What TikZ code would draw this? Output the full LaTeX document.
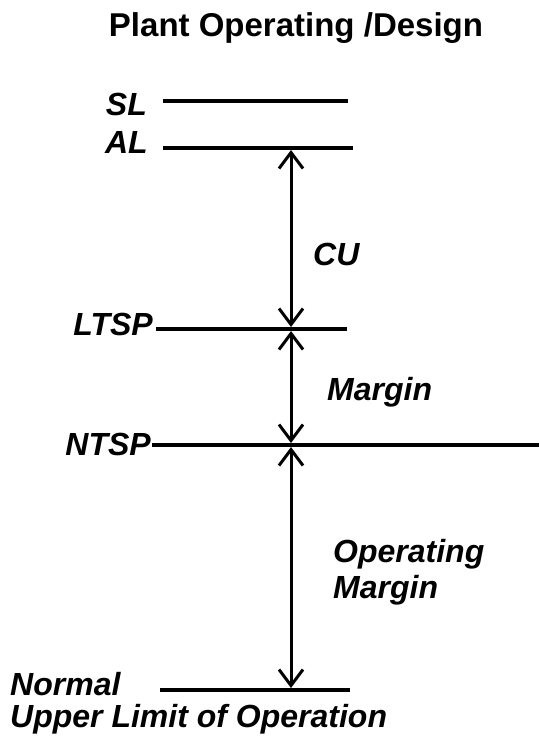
\documentclass[tikz,border=0pt]{standalone}
\usepackage{fontspec}
\setmainfont{Liberation Sans}
\usetikzlibrary{arrows.meta}
\begin{document}
\begin{tikzpicture}[x=1pt,y=-1pt,
  lbl/.style={inner sep=0pt,font=\bfseries\itshape\fontsize{32}{36}\selectfont},
  ttl/.style={inner sep=0pt,font=\bfseries\fontsize{33}{38}\selectfont},
  level/.style={line width=3.6pt},
  dimarrow/.style={line width=3pt,{Straight Barb[length=16pt,width=24pt]}-{Straight Barb[length=16pt,width=24pt]}}]
\useasboundingbox (0,0) rectangle (539,736);
% title
\node[ttl,anchor=base] (title) at (296,36) {Plant Operating /Design};
% labels
\node[lbl,anchor=base east] (sl) at (147,115) {SL};
\node[lbl,anchor=base east] (al) at (148,153) {AL};
\node[lbl,anchor=base east] (ltsp) at (153,335) {LTSP};
\node[lbl,anchor=base east] (ntsp) at (151,455) {NTSP};
\node[lbl,anchor=base west] (normal) at (10,695) {Normal};
\node[lbl,anchor=base west] (upper) at (10,727) {Upper Limit of Operation};
\node[lbl,anchor=base west] (cu) at (313,265) {CU};
\node[lbl,anchor=base west] (margin) at (327,400) {Margin};
\node[lbl,anchor=base west] (opm1) at (333,562) {Operating};
\node[lbl,anchor=base west] (opm2) at (333,598) {Margin};
% level lines
\coordinate (slA) at (163,101); \coordinate (slB) at (348,101);
\coordinate (alA) at (163,148); \coordinate (alB) at (353,148);
\coordinate (ltA) at (156,329); \coordinate (ltB) at (347,329);
\coordinate (ntA) at (152,445); \coordinate (ntB) at (539,445);
\coordinate (noA) at (160,690); \coordinate (noB) at (350,690);
\draw[level] (slA) -- (slB);
\draw[level] (alA) -- (alB);
\draw[level] (ltA) -- (ltB);
\draw[level] (ntA) -- (ntB);
\draw[level] (noA) -- (noB);
% dimension arrows
\coordinate (a1) at (291,150);
\coordinate (a2) at (291,327);
\coordinate (a3) at (291,331);
\coordinate (a4) at (291,443);
\coordinate (a5) at (291,447);
\coordinate (a6) at (291,688);
\draw[dimarrow] (a1) -- (a2);
\draw[dimarrow] (a3) -- (a4);
\draw[dimarrow] (a5) -- (a6);
\end{tikzpicture}
\end{document}
